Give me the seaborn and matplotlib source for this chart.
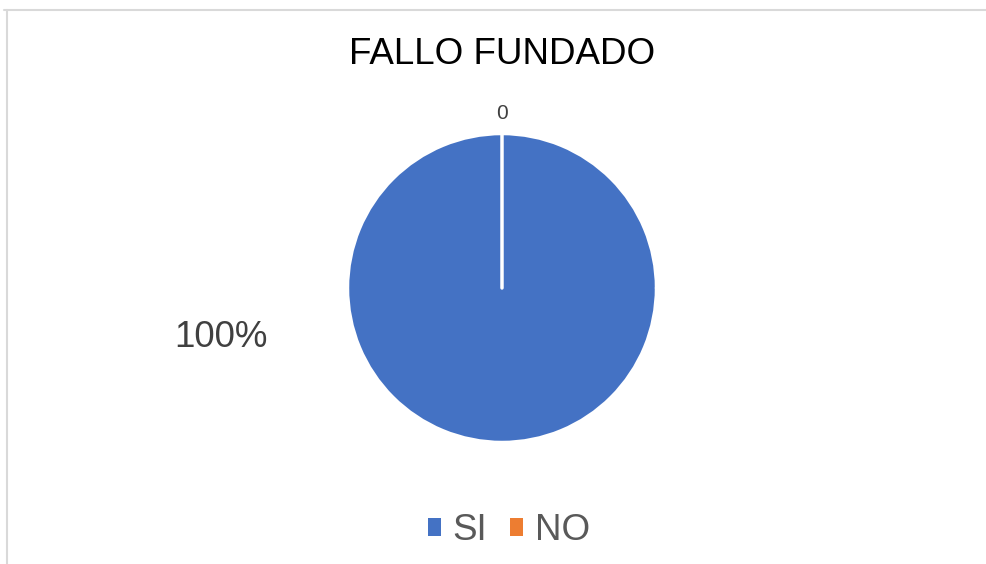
import matplotlib.pyplot as plt
import matplotlib.lines as mlines
import matplotlib.patches as mpatches
import seaborn as sns

# data
categories = ['SI', 'NO']
values = [100, 0]
colors = ['#4472C4', '#ED7D31']
title = 'FALLO FUNDADO'

sns.set_theme(style='white')
plt.rcParams['font.family'] = ['Liberation Sans', 'DejaVu Sans']

W, H = 987, 564
fig = plt.figure(figsize=(W / 100, H / 100), dpi=100)
ax = fig.add_axes([0, 0, 1, 1])

# pie centre and radius in pixels
cx, cy, r = 502, 288, 154.5

wedges, _ = ax.pie(values, colors=colors, startangle=90, counterclock=False,
                   radius=1, wedgeprops=dict(edgecolor='white', linewidth=2.5,
                                             capstyle='round'))
ax.set_xlim(-cx / r, (W - cx) / r)
ax.set_ylim(-(H - cy) / r, cy / r)
ax.set_aspect('auto')
ax.axis('off')

total = sum(values)
# data labels
ax.text(-1.82, -0.32, f'{values[0] / total * 100:.0f}%', fontsize=26.5,
        color='#404040', ha='center', va='center')
ax.text(0, 1.13, f'{values[1]}', fontsize=15, color='#404040',
        ha='center', va='center')

fig.text(cx / W, 1 - 54 / H, title, fontsize=26.5, color='black',
         ha='center', va='center')

# legend
handles = [mpatches.Patch(facecolor=w.get_facecolor(), edgecolor='none') for w in wedges]
leg = fig.legend(handles, categories, loc='center', bbox_to_anchor=(509 / W, 1 - 531 / H),
                 ncol=2, frameon=False, fontsize=26.5, handlelength=0.36, handleheight=0.36,
                 handletextpad=0.32, columnspacing=0.62)
for t in leg.get_texts():
    t.set_color('#595959')

# chart border (top and left visible)
fig.add_artist(mlines.Line2D([4 / W, 1], [1 - 10 / H, 1 - 10 / H], color='#D9D9D9', lw=1.5))
fig.add_artist(mlines.Line2D([7 / W, 7 / W], [0, 1 - 10 / H], color='#D9D9D9', lw=1.5))

fig.savefig('out.png', dpi=100, facecolor='white')
